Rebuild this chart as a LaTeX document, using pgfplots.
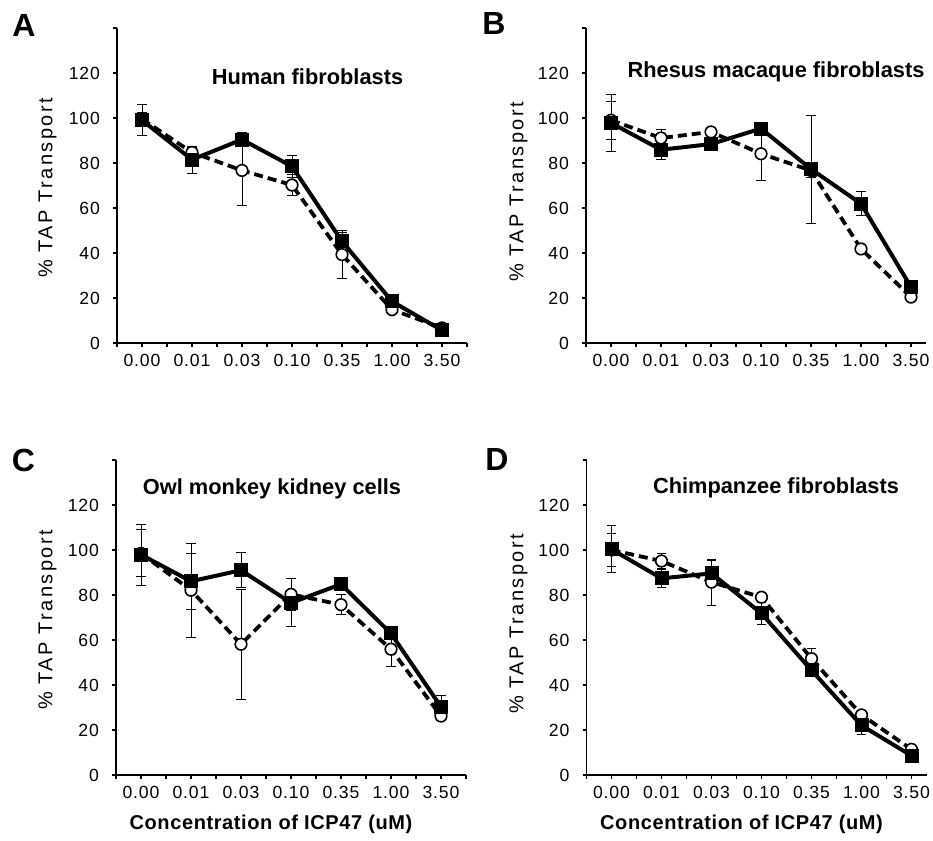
\documentclass[border=0pt]{standalone}
\usepackage{fontspec}
\setmainfont{Liberation Sans}
\newfontfamily\tickfont[LetterSpace=5]{Liberation Sans}
\newfontfamily\ylabfont[LetterSpace=12]{Liberation Sans}
\newfontfamily\xlabfont[LetterSpace=3]{Liberation Sans}
\usepackage{pgfplots}
\pgfplotsset{compat=1.18}
\pgfplotsset{
  panel/.style={
    scale only axis, width=175pt, height=157.5pt,
    axis x line=bottom, axis y line=left, axis line style={-, line width=0.6pt, black},
    xmin=-0.5, xmax=6.5, ymin=0, ymax=140,
    xtick={0,...,6}, xticklabels={0.00,0.01,0.03,0.10,0.35,1.00,3.50},
    minor xtick={-0.5,0.5,...,6.5},
    ytick={0,20,...,140}, yticklabels={0,20,40,60,80,100,120,{}},
    tick align=outside, major tick length=2pt, minor tick length=2pt,
    tick style={black, line width=0.6pt},
    ticklabel style={font=\tickfont\fontsize{8.8}{10}\selectfont},
    yticklabel style={xshift=-3pt},
    clip=false,
  },
  sq/.style={black, line width=2pt, mark=square*, mark size=2.5pt, mark options={solid, fill=black},
    error bars/.cd, y dir=both, y explicit,
    error bar style={line width=0.5pt, black, solid},
    error mark options={rotate=90, line width=0.5pt, mark size=2.3pt, black, solid}},
  ci/.style={black, line width=1.9pt, dash pattern=on 4.5pt off 2.5pt, mark=*, mark size=2.9pt,
    mark options={solid, fill=white, line width=0.8pt},
    error bars/.cd, y dir=both, y explicit,
    error bar style={line width=0.5pt, black, solid},
    error mark options={rotate=90, line width=0.5pt, mark size=2.3pt, black, solid}},
}
\newcommand\ttl{\bfseries\fontsize{10.9}{12}\selectfont}
\newcommand\ylab{\ylabfont\fontsize{10}{12}\selectfont \% TAP Transport}
\newcommand\xlab{\xlabfont\bfseries\fontsize{10}{12}\selectfont Concentration of ICP47 (uM)}
\newcommand\letterfont{\bfseries\fontsize{16}{18}\selectfont}
\begin{document}
\begin{tikzpicture}
\useasboundingbox (0,0) rectangle (466.5pt,420.5pt);
% Panel A
\begin{axis}[panel, at={(58.5pt,249pt)}, anchor=south west]
\addplot[ci] coordinates {(0,99.5) +- (0,3) (1,84.7) +- (0,2) (2,76.7) +- (0,15.7) (3,70.2) +- (0,4.6) (4,39.3) +- (0,10.7) (5,14.8) +- (0,1.5) (6,6.7) +- (0,1)};
\addplot[sq] coordinates {(0,99) +- (0,7) (1,81.5) +- (0,6) (2,90.4) +- (0,3.2) (3,78.5) +- (0,4.8) (4,45.2) +- (0,4) (5,18.5) +- (0,2) (6,5.6) +- (0,1)};
\end{axis}
% Panel B
\begin{axis}[panel, width=170pt, xmax=6.3, at={(293pt,249pt)}, anchor=south west]
\addplot[ci] coordinates {(0,99) +- (0,8.5) (1,91.1) +- (0,4) (2,93.8) +- (0,1.5) (3,84.1) +- (0,12) (4,76.7) +- (0,3) (5,41.8) +- (0,1.5) (6,20.4) +- (0,1)};
\addplot[sq] coordinates {(0,97.8) +- (0,12.6) (1,85.9) +- (0,4.5) (2,88.4) +- (0,1.5) (3,95.3) +- (0,2) (4,77.3) +- (0,24) (5,61.9) +- (0,5.4) (6,24.9) +- (0,2)};
\end{axis}
% Panel C
\begin{axis}[panel, at={(58pt,33pt)}, anchor=south west]
\addplot[ci] coordinates {(0,98.5) +- (0,10.5) (1,82.1) +- (0,21) (2,58.1) +- (0,24.4) (3,80.3) +- (0,7) (4,75.7) +- (0,4.4) (5,55.9) +- (0,7.5) (6,26.2) +- (0,2)};
\addplot[sq] coordinates {(0,97.9) +- (0,13.5) (1,86.1) +- (0,12.5) (2,91) +- (0,7.7) (3,76.5) +- (0,10.7) (4,84.8) +- (0,1.5) (5,62.9) +- (0,2) (6,30.3) +- (0,5)};
\end{axis}
% Panel D
\begin{axis}[panel, width=170pt, xmax=6.3, at={(293.25pt,33pt)}, anchor=south west]
\addplot[ci] coordinates {(0,100) +- (0,7.5) (1,95.1) +- (0,3.4) (2,85.7) +- (0,10.2) (3,79) +- (0,2) (4,51.7) +- (0,4.3) (5,26.7) +- (0,2) (6,11.4) +- (0,1)};
\addplot[sq] coordinates {(0,100.3) +- (0,10.4) (1,87.4) +- (0,4) (2,89.6) +- (0,5.8) (3,71.8) +- (0,5) (4,46.5) +- (0,2) (5,22) +- (0,4.2) (6,8.6) +- (0,1)};
\end{axis}
% titles
\node[anchor=base] at (153.75pt,378pt) {\ttl Human fibroblasts};
\node[anchor=base] at (388pt,381.5pt) {\ttl Rhesus macaque fibroblasts};
\node[anchor=base] at (136pt,173pt) {\ttl Owl monkey kidney cells};
\node[anchor=base] at (388pt,173.5pt) {\ttl Chimpanzee fibroblasts};
% y labels
\node[rotate=90] at (23.75pt,326.5pt) {\ylab};
\node[rotate=90] at (259.25pt,324.5pt) {\ylab};
\node[rotate=90] at (23.75pt,110.5pt) {\ylab};
\node[rotate=90] at (259.25pt,108.5pt) {\ylab};
% x labels
\node[anchor=base] at (135.5pt,5.5pt) {\xlab};
\node[anchor=base] at (370.75pt,5.5pt) {\xlab};
% panel letters
\node at (12pt,407.75pt) {\letterfont A};
\node at (247pt,408.5pt) {\letterfont B};
\node at (11.75pt,190.5pt) {\letterfont C};
\node at (248.5pt,191pt) {\letterfont D};
\end{tikzpicture}
\end{document}
